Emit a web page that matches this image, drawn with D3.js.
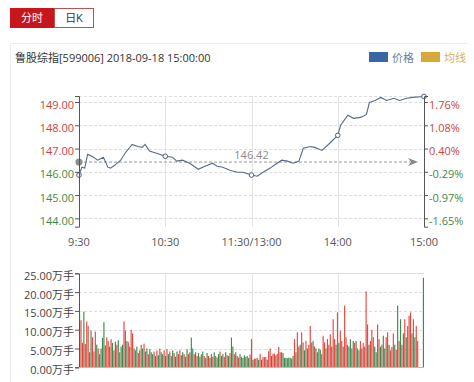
<!DOCTYPE html>
<html><head><meta charset="utf-8">
<script src="https://cdn.jsdelivr.net/npm/d3@7"></script>
<style>
body{margin:0;background:#fff;}
text{font-family:"Open Sans","Noto Sans CJK SC",sans-serif;}
</style></head>
<body><svg id="c" width="474" height="382"></svg>
<script>
const title = "鲁股综指[599006] 2018-09-18 15:00:00";
const tabs = ["分时", "日K"];
const legendNames = ["价格", "均线"];
const basePrice = 146.42;
const priceTicks = [149, 148, 147, 146, 145, 144];
const pctTicks = ["1.76%", "1.08%", "0.40%", "-0.29%", "-0.97%", "-1.65%"];
const volTicks = [0, 5, 10, 15, 20, 25];
const timeTicks = [0, 60, 120, 180, 240];
const timeLabels = ["9:30", "10:30", "11:30/13:00", "14:00", "15:00"];
const times = [0,2,4,6,9,13,17,20,22,25,29,32,37,41,44,46,49,54,60,65,68,72,77,83,86,93,96,100,105,110,114,120,124,128,133,136,141,145,149,153,156,161,164,169,175,180,182,187,191,196,200,202,206,210,214,219,223,228,232,240];
const prices = [145.86,146.20,146.16,146.75,146.67,146.50,146.63,146.20,146.16,146.29,146.50,146.80,147.18,147.09,147.05,147.18,146.89,146.80,146.67,146.63,146.46,146.50,146.37,146.11,146.20,146.37,146.24,146.20,146.07,145.98,145.98,145.86,145.81,145.98,146.16,146.29,146.50,146.46,146.37,146.46,147.01,147.09,147.05,146.92,147.26,147.57,148.00,148.43,148.30,148.34,148.47,148.98,149.07,149.20,149.07,149.16,149.07,149.16,149.20,149.24];
const markerTimes = [0, 60, 120, 180, 240];
const volumes = [
14.5,12.5,6.5,14.8,6.2,12.2,11.0,4.0,9.8,8.0,
4.2,9.5,6.0,5.0,3.5,5.0,7.8,12.0,5.8,8.0,
7.0,5.5,7.5,6.5,4.5,6.8,6.0,7.2,4.0,5.5,
6.0,12.2,9.8,7.0,6.7,5.5,10.0,9.0,5.0,4.5,
5.5,3.8,4.5,6.0,5.0,6.3,4.2,5.0,3.5,4.8,
4.0,3.5,4.2,3.0,4.5,3.2,5.0,4.0,3.5,4.5,
3.0,4.9,3.5,4.2,3.0,4.5,3.8,2.8,4.2,3.5,
4.5,3.2,4.0,3.5,2.8,4.8,3.5,4.0,7.9,5.0,
3.5,4.0,3.0,3.8,2.8,3.5,4.2,3.0,2.5,3.8,
3.0,2.5,3.5,2.8,4.0,3.0,2.6,3.5,4.2,3.0,
3.5,2.8,4.0,3.2,3.0,3.8,7.9,5.5,3.5,4.0,
3.0,2.6,3.5,2.8,2.5,3.2,2.8,3.0,2.5,3.4,
7.5,2.0,2.3,2.3,2.5,2.0,3.6,2.0,2.7,2.7,
2.7,2.0,4.3,5.0,3.0,3.6,3.6,3.2,3.6,5.4,
4.0,4.0,3.8,2.5,2.5,2.4,2.6,2.5,2.3,3.0,
7.5,4.0,9.3,5.5,6.0,9.3,6.6,4.5,7.0,5.0,
6.0,11.0,6.6,7.0,5.5,5.0,4.0,5.0,4.6,3.5,
8.4,6.6,5.0,7.5,6.0,8.8,5.5,12.8,7.5,6.0,
14.6,6.5,9.7,7.0,5.5,16.4,8.0,6.0,5.5,7.5,
5.0,7.0,6.5,7.0,5.0,4.5,7.0,5.0,6.5,5.5,
20.2,11.4,6.0,7.0,10.0,8.0,5.5,4.0,11.4,7.5,
5.5,6.0,8.4,5.0,8.0,9.3,6.0,4.5,5.4,9.0,
6.0,4.6,16.4,7.0,12.8,6.0,9.0,12.8,8.0,11.0,
13.7,14.6,9.0,12.8,8.0,11.0,7.0,0,0,0,23.8];
const volDirs = ("grrgrrrggr"+"rrgrggggrr"+"rgrgrgrgrg"+"grrgrgrrgr"+"grgrgrggrg"+
"ggrgrgrggr"+"grgrggrggr"+"rggrggrggg"+"rgrggrgrrg"+"rggrgrggrg"+
"grgrgrggrg"+"grgrggrggr"+"rgrgrgrgrr"+"rgrrgrrgrr"+"rrggggggrg"+
"rgrrgrrgrg"+"rrrgrgrggr"+"rrgrrrgrrg"+"rgrrgrrrgg"+"rgrgrgrgrr"+
"rrgrrrggrr"+"grggrrgrrr"+"grgrgrgrgr"+"rrgrgrrgggg").split("");

const RED = "#d2423c", GREEN = "#3f8a48", BARRED = "#e5483f", BARGREEN = "#3b8b4f";
const svg = d3.select("#c");
svg.append("rect").attr("width",474).attr("height",382).attr("fill","#fff");

// tabs
svg.append("rect").attr("x",10).attr("y",8).attr("width",44).attr("height",20).attr("fill","#c8161d");
svg.append("rect").attr("x",54.5).attr("y",8.5).attr("width",39).attr("height",19).attr("fill","#fff").attr("stroke","#c0504d");
svg.append("text").attr("x",32).attr("y",22).attr("text-anchor","middle").attr("fill","#fff").attr("font-size",11).text(tabs[0]);
svg.append("text").attr("x",74).attr("y",22).attr("text-anchor","middle").attr("fill","#333").attr("font-size",11).text(tabs[1]);

// panel border
svg.append("path").attr("d","M10.5,390V43.5H467.5").attr("fill","none").attr("stroke","#ececec");

svg.append("text").attr("x",15).attr("y",62).attr("fill","#333").attr("font-size",11).text(title);

// legend
svg.append("rect").attr("x",369).attr("y",52).attr("width",19).attr("height",10).attr("fill","#3b66a6");
svg.append("text").attr("x",392).attr("y",61.5).attr("fill","#6b7f9c").attr("font-size",11).text(legendNames[0]);
svg.append("rect").attr("x",421).attr("y",52).attr("width",19).attr("height",10).attr("fill","#d7a93b");
svg.append("text").attr("x",444).attr("y",61.5).attr("fill","#d8b25a").attr("font-size",11).text(legendNames[1]);

const L = 79, R = 424;
const x = d3.scaleLinear().domain([0,240]).range([L,R]);
const y = d3.scaleLinear().domain([143.64,149.26]).range([226.7,96]);
const yv = d3.scaleLinear().domain([0,25]).range([367.3,273.3]);

// price grid
const gp = svg.append("g");
gp.selectAll("line.h").data(priceTicks.concat([149.26])).enter().append("line")
  .attr("x1",L).attr("x2",R).attr("y1",d=>Math.round(y(d))+0.5).attr("y2",d=>Math.round(y(d))+0.5)
  .attr("stroke","#dedede").attr("stroke-dasharray","3,2");
gp.selectAll("line.v").data([60,120,180]).enter().append("line")
  .attr("x1",d=>Math.round(x(d))+0.5).attr("x2",d=>Math.round(x(d))+0.5).attr("y1",96).attr("y2",226.7)
  .attr("stroke","#e3e3e3");

// volume grid
const gv = svg.append("g");
gv.selectAll("line.h").data(volTicks.slice(1)).enter().append("line")
  .attr("x1",L).attr("x2",R).attr("y1",d=>Math.round(yv(d))+0.5).attr("y2",d=>Math.round(yv(d))+0.5)
  .attr("stroke","#dedede").attr("stroke-dasharray",d=>d===25?null:"3,2");
gv.selectAll("line.v").data([60,120,180]).enter().append("line")
  .attr("x1",d=>Math.round(x(d))+0.5).attr("x2",d=>Math.round(x(d))+0.5).attr("y1",273.3).attr("y2",367.3)
  .attr("stroke","#e3e3e3");

// base line
const yb = y(basePrice);
svg.append("line").attr("x1",L).attr("x2",R-14).attr("y1",yb).attr("y2",yb)
  .attr("stroke","#999").attr("stroke-dasharray","3,2");
svg.append("path").attr("d",`M${R-16},${yb-4}L${R-6},${yb}L${R-16},${yb+4}L${R-13},${yb}Z`).attr("fill","#888");
svg.append("text").attr("x",x(120)).attr("y",yb-3).attr("text-anchor","middle").attr("fill","#8a8a8a").attr("font-size",11).text(basePrice.toFixed(2));

// volume bars
const xb = d3.scaleBand().domain(d3.range(volumes.length)).range([L,R]).paddingInner(0.2);
svg.append("g").selectAll("rect").data(volumes).enter().append("rect")
  .attr("x",(d,i)=>xb(i)).attr("width",xb.bandwidth())
  .attr("y",d=>yv(d)).attr("height",d=>yv(0)-yv(d))
  .attr("fill",(d,i)=>volDirs[i]==="r"?BARRED:BARGREEN);

// price line
const pts = times.map((t,i)=>[t,prices[i]]);
svg.append("path").datum(pts).attr("fill","none").attr("stroke","#566b8a").attr("stroke-width",1.1)
  .attr("d",d3.line().x(d=>x(d[0])).y(d=>y(d[1])));
svg.append("g").selectAll("circle").data(markerTimes).enter().append("circle")
  .attr("cx",d=>x(d)).attr("cy",d=>y(prices[times.indexOf(d)])).attr("r",2.3)
  .attr("fill","#fff").attr("stroke","#4b5f7c").attr("stroke-width",1);
svg.append("circle").attr("cx",L).attr("cy",yb).attr("r",3.6).attr("fill","#8c8c8c");

// axes
const axL = d3.axisLeft(y).tickValues(priceTicks).tickSize(4).tickSizeOuter(4).tickFormat(d3.format(".2f"));
const gL = svg.append("g").attr("transform",`translate(${L},0)`).call(axL);
gL.selectAll("text").attr("fill",d=>d>basePrice?RED:GREEN).attr("font-size",11).attr("dy","0.55em").attr("x",-5);
const axR = d3.axisRight(y).tickValues(priceTicks).tickSize(4).tickSizeOuter(4).tickFormat((d,i)=>pctTicks[i]);
const gR = svg.append("g").attr("transform",`translate(${R},0)`).call(axR);
gR.selectAll("text").attr("fill",d=>d>basePrice?RED:GREEN).attr("font-size",11).attr("dy","0.55em").attr("x",5);
const axV = d3.axisLeft(yv).tickValues(volTicks).tickSize(4).tickSizeOuter(4).tickFormat(d=>d3.format(".2f")(d)+"万手");
const gV = svg.append("g").attr("transform",`translate(${L},0)`).call(axV);
gV.selectAll("text").attr("fill","#444").attr("font-size",11).attr("dy","0.55em").attr("x",-5);
[gL,gR,gV].forEach(g=>{g.selectAll("path,line").attr("stroke","#555");g.select(".domain").attr("stroke","#555");g.selectAll("text").attr("font-family",'"Open Sans","Noto Sans CJK SC",sans-serif');});
svg.append("line").attr("x1",L).attr("x2",R).attr("y1",367.5).attr("y2",367.5).attr("stroke","#bbb");

// time labels
svg.append("g").selectAll("text").data(timeTicks).enter().append("text")
  .attr("x",d=>x(d)).attr("y",246).attr("text-anchor","middle").attr("fill","#555").attr("font-size",11)
  .text((d,i)=>timeLabels[i]);
</script></body></html>
